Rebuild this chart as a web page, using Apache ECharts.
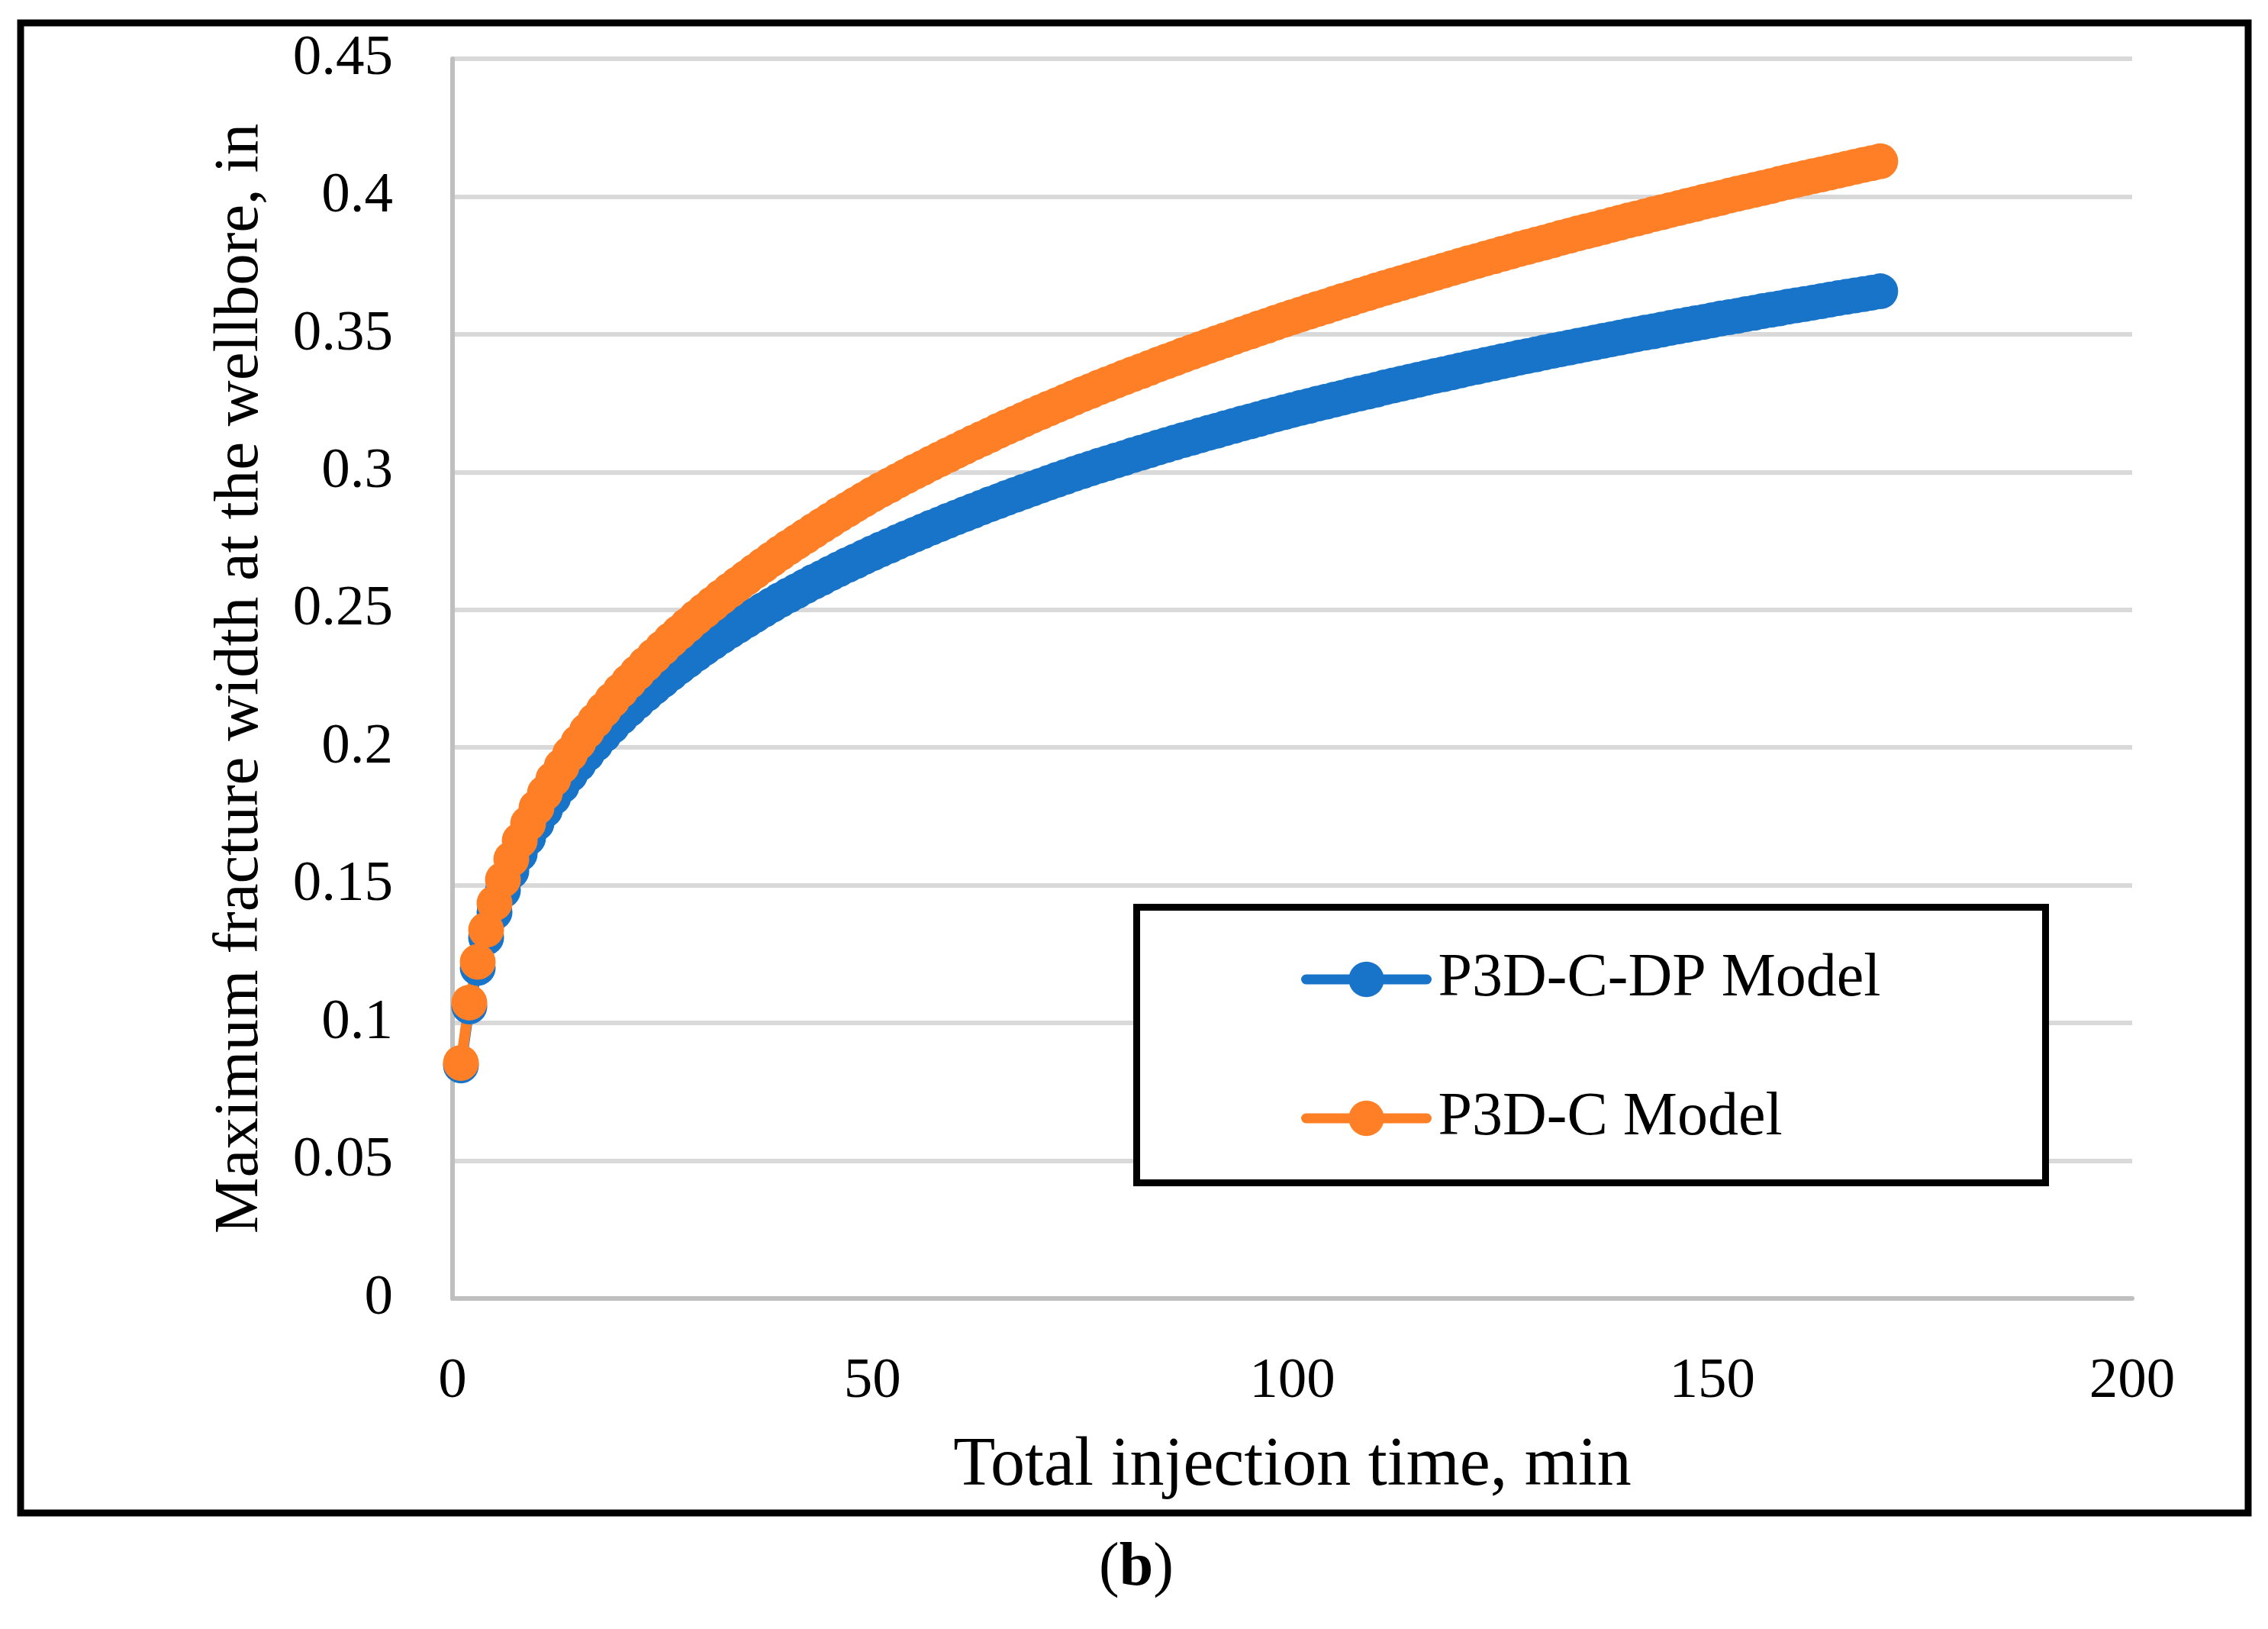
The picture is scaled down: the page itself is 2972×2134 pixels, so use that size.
<!DOCTYPE html>
<html>
<head>
<meta charset="utf-8">
<script src="https://cdn.jsdelivr.net/npm/echarts@6/dist/echarts.min.js"></script>
<style>
  html, body { margin: 0; padding: 0; background: #ffffff; }
  #chart { width: 2972px; height: 2134px; }
</style>
</head>
<body>
<div id="chart"></div>
<script>
// Total injection time, min
const times = [1,2,3,4,5,6,7,8,9,10,11,12,13,14,15,16,17,18,19,20,21,22,23,24,25,26,27,28,29,30,
31,32,33,34,35,36,37,38,39,40,41,42,43,44,45,46,47,48,49,50,51,52,53,54,55,56,57,58,59,60,
61,62,63,64,65,66,67,68,69,70,71,72,73,74,75,76,77,78,79,80,81,82,83,84,85,86,87,88,89,90,
91,92,93,94,95,96,97,98,99,100,101,102,103,104,105,106,107,108,109,110,111,112,113,114,115,116,117,118,119,120,
121,122,123,124,125,126,127,128,129,130,131,132,133,134,135,136,137,138,139,140,141,142,143,144,145,146,147,148,149,150,
151,152,153,154,155,156,157,158,159,160,161,162,163,164,165,166,167,168,169,170];

// P3D-C-DP Model, maximum fracture width at the wellbore (in)
const dpModel = [
0.0846,0.1060,0.1200,0.1310,0.1402,0.1481,0.1551,0.1614,0.1672,0.1725,
0.1773,0.1819,0.1861,0.1902,0.1940,0.1977,0.2012,0.2046,0.2078,0.2109,
0.2138,0.2166,0.2193,0.2219,0.2244,0.2269,0.2293,0.2316,0.2339,0.2361,
0.2382,0.2403,0.2423,0.2442,0.2461,0.2480,0.2499,0.2517,0.2535,0.2552,
0.2568,0.2585,0.2601,0.2616,0.2632,0.2647,0.2662,0.2676,0.2691,0.2705,
0.2719,0.2732,0.2746,0.2759,0.2772,0.2785,0.2798,0.2810,0.2823,0.2835,
0.2847,0.2859,0.2871,0.2883,0.2894,0.2906,0.2917,0.2928,0.2939,0.2950,
0.2961,0.2972,0.2982,0.2993,0.3003,0.3013,0.3023,0.3032,0.3042,0.3051,
0.3061,0.3070,0.3079,0.3089,0.3098,0.3107,0.3116,0.3124,0.3133,0.3142,
0.3150,0.3159,0.3167,0.3176,0.3184,0.3192,0.3201,0.3209,0.3217,0.3225,
0.3233,0.3240,0.3248,0.3255,0.3263,0.3270,0.3278,0.3285,0.3292,0.3299,
0.3307,0.3314,0.3321,0.3328,0.3335,0.3342,0.3349,0.3355,0.3362,0.3369,
0.3376,0.3382,0.3389,0.3395,0.3402,0.3408,0.3415,0.3421,0.3427,0.3434,
0.3440,0.3446,0.3452,0.3458,0.3464,0.3470,0.3476,0.3482,0.3488,0.3494,
0.3500,0.3506,0.3511,0.3517,0.3523,0.3529,0.3534,0.3540,0.3545,0.3551,
0.3557,0.3562,0.3567,0.3573,0.3578,0.3584,0.3589,0.3594,0.3600,0.3605,
0.3610,0.3615,0.3620,0.3626,0.3631,0.3636,0.3641,0.3646,0.3651,0.3656];

// P3D-C Model, maximum fracture width at the wellbore (in)
const cModel = [
0.0855,0.1074,0.1222,0.1338,0.1435,0.1520,0.1595,0.1662,0.1724,0.1782,
0.1835,0.1885,0.1932,0.1977,0.2019,0.2060,0.2098,0.2136,0.2172,0.2206,
0.2239,0.2271,0.2302,0.2332,0.2361,0.2390,0.2417,0.2444,0.2471,0.2496,
0.2521,0.2546,0.2570,0.2593,0.2616,0.2639,0.2661,0.2683,0.2705,0.2726,
0.2746,0.2766,0.2786,0.2806,0.2825,0.2845,0.2863,0.2882,0.2900,0.2918,
0.2935,0.2951,0.2968,0.2984,0.3000,0.3015,0.3031,0.3046,0.3061,0.3076,
0.3091,0.3106,0.3120,0.3134,0.3149,0.3163,0.3176,0.3190,0.3204,0.3217,
0.3230,0.3243,0.3256,0.3269,0.3282,0.3294,0.3307,0.3319,0.3331,0.3343,
0.3355,0.3366,0.3378,0.3390,0.3401,0.3412,0.3424,0.3435,0.3446,0.3457,
0.3468,0.3478,0.3489,0.3500,0.3510,0.3521,0.3531,0.3542,0.3552,0.3562,
0.3572,0.3582,0.3592,0.3601,0.3611,0.3621,0.3630,0.3640,0.3649,0.3659,
0.3668,0.3677,0.3686,0.3695,0.3704,0.3713,0.3722,0.3731,0.3740,0.3749,
0.3758,0.3766,0.3775,0.3783,0.3792,0.3800,0.3809,0.3817,0.3825,0.3833,
0.3841,0.3850,0.3858,0.3866,0.3874,0.3881,0.3889,0.3897,0.3905,0.3913,
0.3920,0.3928,0.3936,0.3943,0.3951,0.3958,0.3966,0.3973,0.3981,0.3988,
0.3995,0.4003,0.4010,0.4017,0.4024,0.4031,0.4038,0.4046,0.4053,0.4060,
0.4067,0.4074,0.4080,0.4087,0.4094,0.4101,0.4108,0.4115,0.4121,0.4128];

const seriesNames = ['P3D-C-DP Model', 'P3D-C Model'];
const xTitle = 'Total injection time, min';
const yTitle = 'Maximum fracture width at the wellbore, in';
const caption = 'b';

const FONT = '"Liberation Serif", "Times New Roman", serif';
const BLUE = '#1874c8';
const ORANGE = '#fe7f26';

const chart = echarts.init(document.getElementById('chart'), null, { renderer: 'canvas' });

function pairs(vals) { return times.map((t, i) => [t, vals[i]]); }

const option = {
  animation: false,
  backgroundColor: '#ffffff',
  grid: { left: 593, right: 178, top: 77, bottom: 433, containLabel: false },
  xAxis: {
    type: 'value', min: 0, max: 200, interval: 50,
    name: xTitle, nameLocation: 'middle', nameGap: 220,
    nameTextStyle: { fontFamily: FONT, fontSize: 90, color: '#000', verticalAlign: 'middle' },
    axisLine: { show: true, lineStyle: { color: '#bfbfbf', width: 6 } },
    axisTick: { show: false },
    splitLine: { show: false },
    axisLabel: { fontFamily: FONT, fontSize: 75, color: '#000', margin: 72 }
  },
  yAxis: {
    type: 'value', min: 0, max: 0.45, interval: 0.05,
    name: yTitle, nameLocation: 'middle', nameGap: 278, nameRotate: 90,
    nameTextStyle: { fontFamily: FONT, fontSize: 83, color: '#000', verticalAlign: 'middle', align: 'center' },
    axisLine: { show: true, lineStyle: { color: '#bfbfbf', width: 6 } },
    axisTick: { show: false },
    splitLine: { show: true, lineStyle: { color: '#d9d9d9', width: 6 } },
    axisLabel: { fontFamily: FONT, fontSize: 75, color: '#000', margin: 78 }
  },
  legend: {
    orient: 'vertical', left: 1700, top: 1238,
    itemWidth: 158, itemHeight: 58, itemGap: 102,
    lineStyle: { width: 13, cap: 'round' },
    textStyle: { fontFamily: FONT, fontSize: 80, color: '#000', padding: [0, 0, 0, 10] },
    data: seriesNames,
    z: 6
  },
  graphic: [
    { type: 'rect', z: 3, shape: { x: 1489.5, y: 1188.5, width: 1191, height: 361 },
      style: { fill: '#ffffff', stroke: '#000000', lineWidth: 9 } },
    { type: 'rect', z: 10, shape: { x: 27, y: 30, width: 2919, height: 1952 },
      style: { fill: 'none', stroke: '#000000', lineWidth: 9 } },
    { type: 'text', z: 10, x: 1489, y: 2055,
      style: {
        text: '{n|(}{b|' + caption + '}{n|)}',
        align: 'center', verticalAlign: 'middle',
        rich: {
          n: { fontFamily: FONT, fontSize: 80, fill: '#000' },
          b: { fontFamily: FONT, fontSize: 80, fontWeight: 'bold', fill: '#000' }
        }
      } }
  ],
  series: [
    {
      name: seriesNames[0], type: 'line', data: pairs(dpModel),
      symbol: 'circle', symbolSize: 47, showSymbol: true, showAllSymbol: true,
      lineStyle: { color: BLUE, width: 14, cap: 'round' },
      itemStyle: { color: BLUE, borderWidth: 0 },
      emphasis: { disabled: true }
    },
    {
      name: seriesNames[1], type: 'line', data: pairs(cModel),
      symbol: 'circle', symbolSize: 47, showSymbol: true, showAllSymbol: true,
      lineStyle: { color: ORANGE, width: 14, cap: 'round' },
      itemStyle: { color: ORANGE, borderWidth: 0 },
      emphasis: { disabled: true }
    }
  ]
};
chart.setOption(option);
</script>
</body>
</html>
